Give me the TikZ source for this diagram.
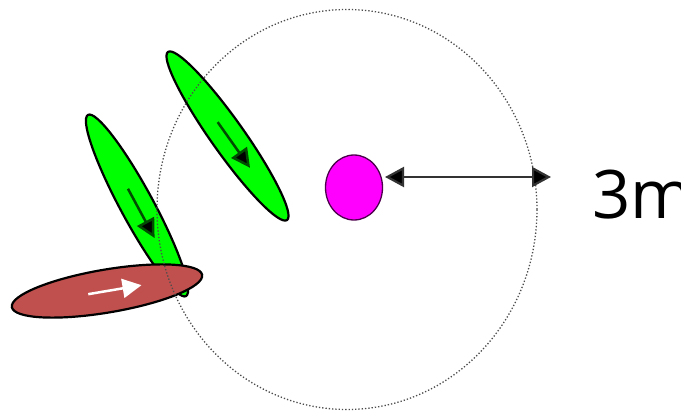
\documentclass[tikz,border=0pt]{standalone}
\usepackage{fontspec}
\setmainfont{Open Sans}
\usetikzlibrary{shapes.geometric,arrows.meta,calc}
\definecolor{pgreen}{RGB}{0,255,0}
\definecolor{pred}{RGB}{192,80,77}
\definecolor{pmag}{RGB}{255,0,255}
\begin{document}
\begin{tikzpicture}[x=1pt,y=-1pt,
  blade/.style={ellipse, draw=black, line width=2.2pt, inner sep=0pt, minimum height=33pt},
  gblade/.style={blade, fill=pgreen, minimum width=206pt},
  rblade/.style={blade, fill=pred, minimum width=193pt, minimum height=43pt},
  darrow/.style={line width=2.5pt, draw=black!70!pgreen, -{Triangle[length=19pt,width=19pt,fill=black]}},
  warrow/.style={line width=2.5pt, draw=white, -{Triangle[length=19pt,width=19pt,fill=white]}},
  ring/.style={draw=black!70, line width=1.3pt, dotted},
  radius arrow/.style={line width=2.2pt, draw=black!80, {Triangle[length=19pt,width=20pt,fill=black]}-{Triangle[length=19pt,width=20pt,fill=black]}}
]
\useasboundingbox (0,0) rectangle (681,412);
% green blades
\node[gblade, rotate=-54.7] (g1) at (227.5,136) {};
\draw[darrow] ($(g1.center)!-17pt!(g1.east)$) -- ($(g1.center)!39pt!(g1.east)$);
\node[gblade, rotate=-61.6] (g2) at (137,205.5) {};
\draw[darrow] ($(g2.center)!-19pt!(g2.east)$) -- ($(g2.center)!37pt!(g2.east)$);
% red blade
\node[rblade, rotate=9.6] (r) at (107,291) {};
\draw[warrow] ($(r.center)!-19pt!(r.east)$) -- ($(r.center)!35pt!(r.east)$);
% dotted ring
\node[ring, ellipse, minimum width=380pt, minimum height=400pt, inner sep=0pt] (ringnode) at (347,209.5) {};
% target
\node[ellipse, draw=black!70!pmag, line width=1.3pt, fill=pmag, minimum width=57pt, minimum height=65pt, inner sep=0pt] (m) at (354,187.5) {};
\coordinate (a1) at (385,177);
\coordinate (a2) at (551,177);
\draw[radius arrow] (a1) -- (a2);
\node[anchor=base west, inner sep=0pt, font=\fontsize{67}{67}\selectfont] (lab) at (592,218) {3m};
\end{tikzpicture}
\end{document}
